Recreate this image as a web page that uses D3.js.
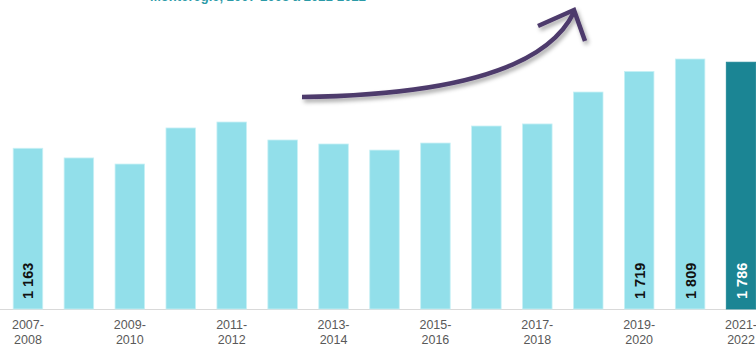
<!DOCTYPE html>
<html>
<head>
<meta charset="utf-8">
<script src="https://cdn.jsdelivr.net/npm/d3@7"></script>
<style>
  html, body { margin: 0; padding: 0; background: #fff; }
  #chart { width: 756px; height: 345px; overflow: hidden; }
  svg { display: block; font-family: "Liberation Sans", Arial, sans-serif; }
</style>
</head>
<body>
<div id="chart"></div>
<script>
/* Data */
var periods = ['2007-2008', '2008-2009', '2009-2010', '2010-2011', '2011-2012', '2012-2013',
  '2013-2014', '2014-2015', '2015-2016', '2016-2017', '2017-2018', '2018-2019',
  '2019-2020', '2020-2021', '2021-2022'];
var values = [1163, 1093, 1049, 1310, 1353, 1223, 1194, 1150, 1201, 1324, 1339, 1570, 1719, 1809, 1786];
var labelled = ['2007-2008', '2019-2020', '2020-2021', '2021-2022'];
var titleText = 'Montérégie, 2007-2008 à 2021-2022';

var width = 756, height = 345;
var m = { top: 0, right: 0, bottom: 36, left: 3 };
var baseY = 309;

var svg = d3.select('#chart').append('svg')
  .attr('width', width)
  .attr('height', height);

/* Drop shadow for the arrow */
var defs = svg.append('defs');
defs.append('filter')
  .attr('id', 'shadow')
  .attr('x', '-20%').attr('y', '-50%').attr('width', '140%').attr('height', '200%')
  .append('feDropShadow')
  .attr('dx', 2).attr('dy', 3)
  .attr('stdDeviation', 2)
  .attr('flood-color', '#000')
  .attr('flood-opacity', 0.35);

/* Scales */
var x = d3.scaleBand().domain(periods).range([m.left, 766]).paddingInner(0.42).paddingOuter(0.2);
var y = d3.scaleLinear().domain([0, 1809]).range([baseY, 59]);

/* Title, mostly cut off by the top edge as in the source image */
svg.append('text')
  .attr('x', 150)
  .attr('y', 1)
  .attr('fill', '#2b9aa7')
  .attr('font-size', '14px')
  .attr('font-weight', 'bold')
  .attr('textLength', 216)
  .attr('lengthAdjust', 'spacingAndGlyphs')
  .text(titleText);

/* Baseline */
svg.append('line')
  .attr('x1', 0).attr('x2', width)
  .attr('y1', baseY + 0.5).attr('y2', baseY + 0.5)
  .attr('stroke', '#d9d9d9')
  .attr('stroke-width', 1);

/* Bars */
svg.selectAll('.bar')
  .data(periods)
  .join('rect')
  .attr('class', 'bar')
  .attr('x', function (d) { return x(d); })
  .attr('width', x.bandwidth())
  .attr('y', function (d, i) { return y(values[i]); })
  .attr('height', function (d, i) { return baseY - y(values[i]); })
  .attr('fill', function (d, i) { return i === periods.length - 1 ? '#1b8594' : '#92dfea'; })
  .attr('stroke', function (d, i) { return i === periods.length - 1 ? '#1b8594' : '#c8f0f5'; })
  .attr('stroke-width', 0.8);

/* Rotated value labels */
svg.selectAll('.val')
  .data(periods.filter(function (d) { return labelled.indexOf(d) >= 0; }))
  .join('text')
  .attr('class', 'val')
  .attr('transform', function (d) {
    return 'translate(' + (x(d) + x.bandwidth() / 2 + 5.5) + ',' + (baseY - 10) + ') rotate(-90)';
  })
  .attr('fill', function (d) { return d === '2021-2022' ? '#fff' : '#111'; })
  .attr('font-size', '14.5px')
  .attr('font-weight', 'bold')
  .text(function (d) {
    var v = values[periods.indexOf(d)];
    return d3.format(',')(v).replace(',', ' ');
  });

/* Category labels, every other period, on two lines */
var ticks = svg.selectAll('.tick-lbl')
  .data(periods.filter(function (d, i) { return i % 2 === 0; }))
  .join('text')
  .attr('class', 'tick-lbl')
  .attr('text-anchor', 'middle')
  .attr('fill', '#595959')
  .attr('font-size', '12.5px');
ticks.append('tspan')
  .attr('x', function (d) { return x(d) + x.bandwidth() / 2; })
  .attr('y', 329)
  .text(function (d) { return d.split('-')[0] + '-'; });
ticks.append('tspan')
  .attr('x', function (d) { return x(d) + x.bandwidth() / 2; })
  .attr('y', 343.5)
  .text(function (d) { return d.split('-')[1]; });

/* Trend arrow */
var arrow = svg.append('g')
  .attr('filter', 'url(#shadow)')
  .attr('fill', 'none')
  .attr('stroke', '#4e3a6c')
  .attr('stroke-width', 4.5)
  .attr('stroke-linecap', 'butt');
var curve = d3.path();
curve.moveTo(302, 97);
curve.quadraticCurveTo(535, 94, 574, 12);
arrow.append('path').attr('d', curve.toString());
var head = d3.path();
head.moveTo(538, 26);
head.lineTo(574, 10);
head.lineTo(585, 41);
arrow.append('path').attr('d', head.toString()).attr('stroke-linejoin', 'miter');
</script>
</body>
</html>
